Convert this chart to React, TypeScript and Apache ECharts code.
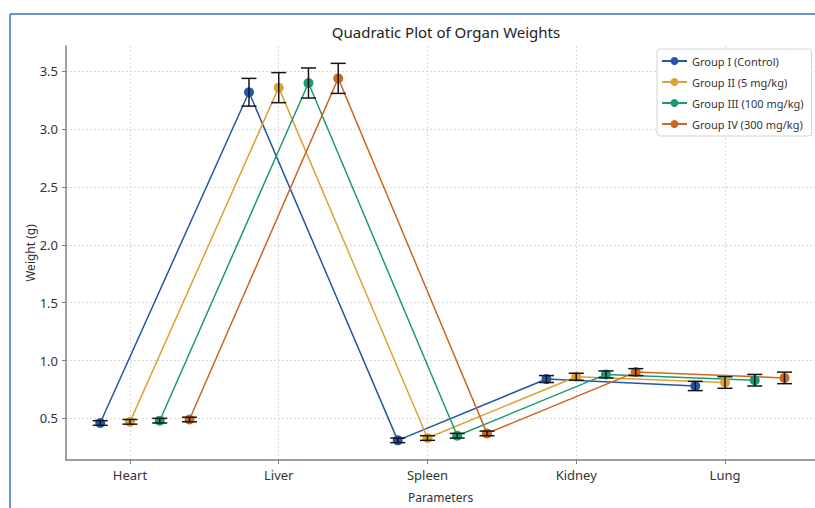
import React, { useEffect, useRef } from "react";
import * as echarts from "echarts";

const categories = ["Heart", "Liver", "Spleen", "Kidney", "Lung"];
const groupNames = ["Group I (Control)", "Group II (5 mg/kg)", "Group III (100 mg/kg)", "Group IV (300 mg/kg)"];
const groupOffsets = [-0.2, 0, 0.2, 0.4];
const groupI = [0.46, 3.32, 0.31, 0.84, 0.78];
const groupII = [0.47, 3.36, 0.33, 0.86, 0.81];
const groupIII = [0.48, 3.40, 0.35, 0.88, 0.83];
const groupIV = [0.49, 3.44, 0.37, 0.90, 0.85];
const errI = [0.02, 0.12, 0.02, 0.03, 0.04];
const errII = [0.02, 0.13, 0.02, 0.03, 0.05];
const errIII = [0.02, 0.13, 0.02, 0.03, 0.05];
const errIV = [0.02, 0.13, 0.02, 0.03, 0.05];
const yTicks = [0.5, 1.0, 1.5, 2.0, 2.5, 3.0, 3.5];
const xTicks = [0, 1, 2, 3, 4];

const colors = ["#2356a6", "#dba235", "#1d9a72", "#cc6722"];
const FONT = "Noto Sans";

export default function App() {
  const ref = useRef<HTMLDivElement>(null);
  useEffect(() => {
    if (!ref.current) return;
    const chart = echarts.init(ref.current, undefined, { renderer: "svg" });
    const values = [groupI, groupII, groupIII, groupIV];
    const errs = [errI, errII, errIII, errIV];

    const lineSeries = values.map((vals, g) => ({
      name: groupNames[g],
      type: "line",
      data: vals.map((v, i) => [i + groupOffsets[g], v]),
      symbol: "circle",
      symbolSize: 10,
      itemStyle: { color: colors[g] },
      lineStyle: { color: colors[g], width: 1.5 },
      z: 3,
    }));

    const errSeries = values.map((vals, g) => ({
      name: groupNames[g] + " err",
      type: "custom",
      data: vals.map((v, i) => [i + groupOffsets[g], v - errs[g][i], v + errs[g][i]]),
      encode: { x: 0, y: [1, 2] },
      z: 4,
      renderItem: (params: any, api: any) => {
        const x = api.value(0);
        const top = api.coord([x, api.value(2)]);
        const bot = api.coord([x, api.value(1)]);
        const cw = 7.5;
        const style = { stroke: "#151515", lineWidth: 1.5 };
        return {
          type: "group",
          children: [
            { type: "line", shape: { x1: top[0], y1: top[1], x2: bot[0], y2: bot[1] }, style },
            { type: "line", shape: { x1: top[0] - cw, y1: top[1], x2: top[0] + cw, y2: top[1] }, style },
            { type: "line", shape: { x1: bot[0] - cw, y1: bot[1], x2: bot[0] + cw, y2: bot[1] }, style },
          ],
        };
      },
    }));

    chart.setOption({
      animation: false,
      backgroundColor: "#ffffff",
      textStyle: { fontFamily: FONT },
      title: {
        text: "Quadratic Plot of Organ Weights",
        left: 441,
        textAlign: "center",
        top: 19,
        textStyle: { fontFamily: FONT, fontSize: 15, fontWeight: "normal", color: "#222" },
      },
      legend: {
        data: groupNames,
        orient: "vertical",
        left: 657,
        top: 49,
        itemWidth: 25,
        itemHeight: 10,
        itemGap: 7,
        padding: [5, 8, 5, 4],
        borderColor: "#d4d4d4",
        borderWidth: 1,
        borderRadius: 3,
        backgroundColor: "#fff",
        textStyle: { fontFamily: FONT, fontSize: 11, color: "#333", lineHeight: 14 },
      },
      grid: { left: 66, right: 0, top: 46, bottom: 45, containLabel: false },
      xAxis: {
        type: "value",
        min: -0.43,
        max: 4.605,
        name: "Parameters",
        nameLocation: "middle",
        nameGap: 31,
        nameMoveOverlap: false,
        nameTextStyle: { fontFamily: FONT, fontSize: 12, color: "#333" },
        axisLine: { show: true, onZero: false, lineStyle: { color: "#808080", width: 1.5 } },
        axisTick: { show: true, length: 4, customValues: xTicks, lineStyle: { color: "#808080" } },
        axisLabel: {
          customValues: xTicks,
          formatter: (v: number) => categories[Math.round(v)] ?? "",
          fontFamily: FONT,
          fontSize: 13,
          color: "#333",
          margin: 8,
        },
        splitLine: { show: true, lineStyle: { color: "#d0d0d0", type: [2, 2], width: 0.8 } },
      },
      yAxis: {
        type: "value",
        min: 0.14,
        max: 3.72,
        name: "Weight (g)",
        nameLocation: "middle",
        nameGap: 30,
        nameMoveOverlap: false,
        nameRotate: 90,
        nameTextStyle: { fontFamily: FONT, fontSize: 12, color: "#333" },
        axisLine: { show: true, onZero: false, lineStyle: { color: "#808080", width: 1.5 } },
        axisTick: { show: true, length: 4, customValues: yTicks, lineStyle: { color: "#808080" } },
        axisLabel: {
          customValues: yTicks,
          formatter: (v: number) => v.toFixed(1),
          fontFamily: FONT,
          fontSize: 13,
          color: "#333",
          margin: 8,
        },
        splitLine: { show: true, lineStyle: { color: "#d0d0d0", type: [2, 2], width: 0.8 } },
      },
      graphic: [
        { type: "line", shape: { x1: 10, y1: 14, x2: 815, y2: 14 }, style: { stroke: "#6a98c8", lineWidth: 2 }, z: 100 },
        { type: "line", shape: { x1: 10, y1: 14, x2: 10, y2: 508 }, style: { stroke: "#6a98c8", lineWidth: 2 }, z: 100 },
      ],
      series: [...lineSeries, ...errSeries],
    });
    return () => chart.dispose();
  }, []);
  return <div ref={ref} style={{ position: "absolute", left: 0, top: 0, width: 815, height: 508 }} />;
}
